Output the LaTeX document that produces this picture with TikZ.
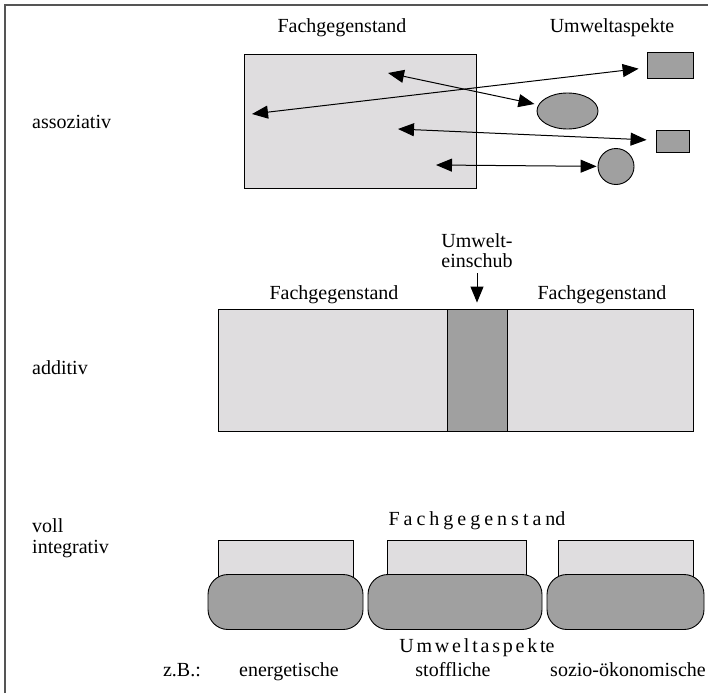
\documentclass[tikz,border=0pt]{standalone}
\usepackage{fontspec}
\setmainfont{Liberation Serif}
\usetikzlibrary{arrows.meta,shapes.geometric}
\definecolor{lightg}{HTML}{DFDDDF}
\definecolor{darkg}{HTML}{A0A0A0}
\definecolor{framec}{HTML}{555555}
\begin{document}
\begin{tikzpicture}[x=1pt,y=-1pt,
  lbl/.style={font=\fontsize{20}{23}\selectfont, inner sep=0pt, anchor=base},
  side/.style={lbl, anchor=base west},
  light/.style={draw=black, fill=lightg, line width=0.9pt, inner sep=0pt},
  dark/.style={draw=black, fill=darkg, line width=0.9pt, inner sep=0pt},
  tipA/.tip={Triangle[length=16pt,width=13pt]},
  dbl/.style={tipA-tipA, line width=1pt},
  sgl/.style={-tipA, line width=1pt},
  rr/.style={dark, rounded corners=20pt, minimum height=55pt},
]
\useasboundingbox (0,0) rectangle (708,693);
\fill[white] (0,0) rectangle (708,693);
\draw[framec, line width=2pt] (5,693) -- (5,5) -- (708,5);

% ---------- assoziativ ----------
\node[lbl] (t1) at (342,33) {Fachgegenstand};
\node[lbl] (t2) at (612,33) {Umweltaspekte};
\node[side] (s1) at (32,128) {assoziativ};
\node[light, minimum width=232pt, minimum height=134pt] (big) at (360,121) {};
\node[dark, minimum width=46pt, minimum height=26pt] (r1) at (670,65) {};
\node[dark, ellipse, minimum width=61pt, minimum height=36pt] (el) at (567.5,111) {};
\node[dark, minimum width=33pt, minimum height=22pt] (r2) at (672.5,141) {};
\node[dark, circle, minimum size=36pt] (ci) at (616,166.5) {};
\coordinate (a1) at (252,114);
\coordinate (a2) at (388,73);
\coordinate (a3) at (398,129);
\coordinate (a4) at (436,165);
\draw[dbl, shorten >=8pt] (a1) -- (r1);
\draw[dbl, shorten >=4pt] (a2) -- (el);
\draw[dbl, shorten >=9pt] (a3) -- (r2);
\draw[dbl, shorten >=1pt] (a4) -- (ci);

% ---------- additiv ----------
\node[lbl] (u1) at (477,247) {Umwelt-};
\node[lbl] (u2) at (477,267) {einschub};
\node[lbl] (f1) at (334,299) {Fachgegenstand};
\node[lbl] (f2) at (602,299) {Fachgegenstand};
\node[side] (s2) at (32,374) {additiv};
\node[light, minimum width=229pt, minimum height=122pt] (bl) at (332.5,370) {};
\node[light, minimum width=186pt, minimum height=122pt] (br) at (600,370) {};
\node[dark, minimum width=60pt, minimum height=122pt] (bm) at (477,370) {};
\coordinate (ua) at (477,273);
\draw[sgl, shorten >=6pt] (ua) -- (bm.north);

% ---------- voll integrativ ----------
\node[lbl] (f3) at (477,525) {\addfontfeature{LetterSpace=20}Fachgegenstan\addfontfeature{LetterSpace=0}d};
\node[side] (s3) at (32,532) {voll};
\node[side] (s4) at (32,553) {integrativ};
\node[light, minimum width=135pt, minimum height=60pt] (l1) at (285.5,570) {};
\node[light, minimum width=139pt, minimum height=60pt] (l2) at (456.5,570) {};
\node[light, minimum width=135pt, minimum height=60pt] (l3) at (625.5,570) {};
\node[rr, minimum width=155pt] (d1) at (285.5,602) {};
\node[rr, minimum width=174pt] (d2) at (455,602) {};
\node[rr, minimum width=157pt] (d3) at (625.5,602) {};
\node[lbl] (u3) at (477,652) {\addfontfeature{LetterSpace=14}Umweltaspekt\addfontfeature{LetterSpace=0}e};
\node[lbl] (zb) at (182,676) {z.B.:};
\node[lbl] (e1) at (289,676) {energetische};
\node[lbl] (e2) at (453,676) {stoffliche};
\node[lbl] (e3) at (628,676) {sozio-ökonomische};
\end{tikzpicture}
\end{document}
